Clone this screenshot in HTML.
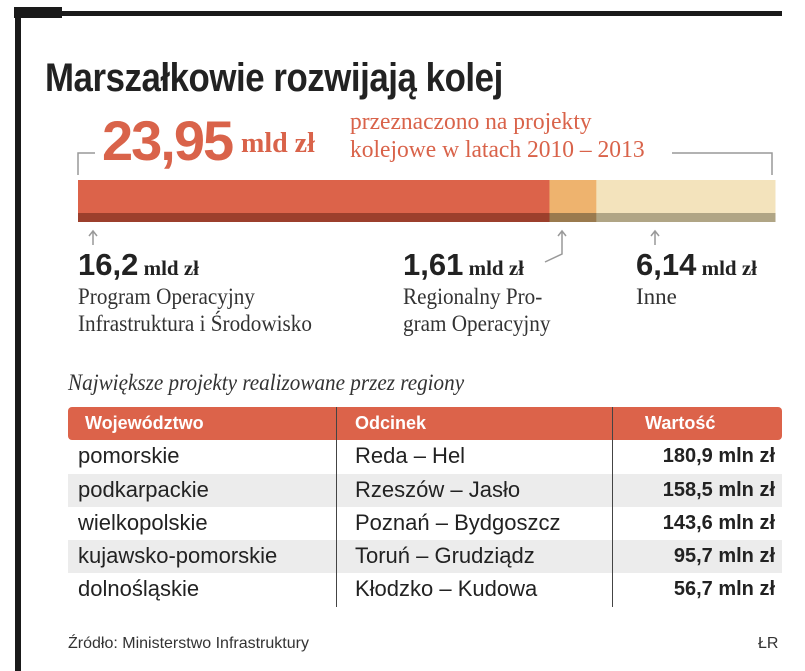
<!DOCTYPE html>
<html><head><meta charset="utf-8"><style>
body{margin:0;width:805px;height:671px;background:#fff;position:relative;overflow:hidden;font-family:"Liberation Sans",sans-serif;color:#222}
.a{position:absolute;white-space:nowrap}
.serif{font-family:"Liberation Serif",serif}
.red{color:#d9634a}
.row{position:absolute;left:68px;width:714px;height:33px}
.cell{position:absolute;top:3px;font-size:22px;white-space:nowrap}
.v{top:5px;right:7px;font-weight:bold;font-size:20px}
</style></head><body>
<div class="a" style="left:14px;top:7px;width:48px;height:11px;background:#1a1a1a"></div>
<div class="a" style="left:60px;top:11px;width:722px;height:5px;background:#1a1a1a"></div>
<div class="a" style="left:15px;top:7px;width:6px;height:664px;background:#1a1a1a"></div>
<div class="a" style="left:45px;top:56px;font-size:40px;font-weight:bold;transform:scaleX(0.87);transform-origin:left top;letter-spacing:-0.5px">Marszałkowie rozwijają kolej</div>
<div class="a red" style="left:102px;top:108px;font-size:56px;font-weight:bold;letter-spacing:-2px">23,95</div>
<div class="a red serif" style="left:241px;top:128px;font-size:28px;font-weight:bold">mld zł</div>
<div class="a red serif" style="left:350px;top:108px;font-size:24px;line-height:28px;transform:scaleX(0.98);transform-origin:left top">przeznaczono na projekty<br>kolejowe w latach 2010 – 2013</div>
<svg class="a" style="left:0;top:0" width="805" height="671">
<path d="M78 175 V153 H95 M672 153 H772 V175" fill="none" stroke="#999" stroke-width="1.5"/>
<g id="bars"></g>
<path d="M93 245 V231 M89 236 L93 231 L97 236" fill="none" stroke="#999" stroke-width="1.5"/>
<path d="M545 262 L562 254 V231 M558 236 L562 231 L566 236" fill="none" stroke="#999" stroke-width="1.5"/>
<path d="M655 245 V231 M651 236 L655 231 L659 236" fill="none" stroke="#999" stroke-width="1.5"/>
</svg>
<script>
const segLabels=["Program Operacyjny Infrastruktura i Środowisko","Regionalny Program Operacyjny","Inne"];
const segValues=[16.2,1.61,6.14];
const segColors=["#dc634a","#eeb36e","#f3e3bc"];
const segDark=["#9c3f2c","#9a7a4e","#b0a585"];
(function(){
const g=document.getElementById('bars');const ns='http://www.w3.org/2000/svg';
const x0=78,w=697,tot=segValues.reduce((a,b)=>a+b,0);
const sx=v=>v/tot*w;let x=x0;
segValues.forEach((v,i)=>{
const r=document.createElementNS(ns,'rect');
r.setAttribute('x',x);r.setAttribute('y',180);r.setAttribute('width',sx(v)+0.5);r.setAttribute('height',33);r.setAttribute('fill',segColors[i]);


g.appendChild(r);
const d=document.createElementNS(ns,'rect');
d.setAttribute('x',x);d.setAttribute('y',213);d.setAttribute('width',sx(v)+0.5);d.setAttribute('height',9);d.setAttribute('fill',segDark[i]);


g.appendChild(d);
x+=sx(v);});
})();
</script>
<div class="a" style="left:78px;top:247px"><span style="font-size:31px;font-weight:bold">16,2</span><span class="serif" style="font-size:21px;font-weight:bold"> mld zł</span><div class="serif" style="font-size:23px;line-height:27px;color:#333;transform:scaleX(0.92);transform-origin:left top">Program Operacyjny<br>Infrastruktura i Środowisko</div></div>
<div class="a" style="left:403px;top:247px"><span style="font-size:31px;font-weight:bold">1,61</span><span class="serif" style="font-size:21px;font-weight:bold"> mld zł</span><div class="serif" style="font-size:23px;line-height:27px;color:#333;transform:scaleX(0.92);transform-origin:left top">Regionalny Pro-<br>gram Operacyjny</div></div>
<div class="a" style="left:636px;top:247px"><span style="font-size:31px;font-weight:bold">6,14</span><span class="serif" style="font-size:21px;font-weight:bold"> mld zł</span><div class="serif" style="font-size:23px;line-height:27px;color:#333">Inne</div></div>
<div class="a serif" style="left:68px;top:370px;font-size:23px;font-style:italic;color:#333;transform:scaleX(0.92);transform-origin:left top">Największe projekty realizowane przez regiony</div>
<div class="a" style="left:68px;top:407px;width:714px;height:33px;background:#dc634a;border-radius:4px;color:#fff;font-weight:bold;font-size:18px">
<span class="a" style="left:17px;top:6px">Województwo</span><span class="a" style="left:287px;top:6px">Odcinek</span><span class="a" style="left:577px;top:6px">Wartość</span></div>
<div class="row" style="top:440px"><span class="cell" style="left:10px">pomorskie</span><span class="cell" style="left:287px">Reda – Hel</span><span class="cell v">180,9 mln zł</span></div>
<div class="row" style="top:474px;background:#ececec"><span class="cell" style="left:10px">podkarpackie</span><span class="cell" style="left:287px">Rzeszów – Jasło</span><span class="cell v">158,5 mln zł</span></div>
<div class="row" style="top:507px"><span class="cell" style="left:10px">wielkopolskie</span><span class="cell" style="left:287px">Poznań – Bydgoszcz</span><span class="cell v">143,6 mln zł</span></div>
<div class="row" style="top:540px;background:#ececec"><span class="cell" style="left:10px">kujawsko-pomorskie</span><span class="cell" style="left:287px">Toruń – Grudziądz</span><span class="cell v">95,7 mln zł</span></div>
<div class="row" style="top:573px"><span class="cell" style="left:10px">dolnośląskie</span><span class="cell" style="left:287px">Kłodzko – Kudowa</span><span class="cell v">56,7 mln zł</span></div>
<div class="a" style="left:336px;top:407px;width:1px;height:200px;background:#444"></div>
<div class="a" style="left:612px;top:407px;width:1px;height:200px;background:#444"></div>
<div class="a" style="left:68px;top:635px;font-size:16px;color:#333">Źródło: Ministerstwo Infrastruktury</div>
<div class="a" style="left:758px;top:635px;font-size:16px;color:#333">ŁR</div>
</body></html>
